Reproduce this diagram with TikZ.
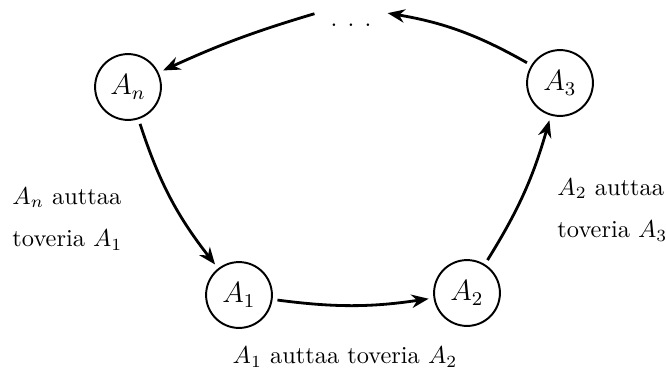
\documentclass[tikz,border=0pt]{standalone}
\usetikzlibrary{arrows.meta}
\begin{document}
\begin{tikzpicture}[x=0.41pt,y=-0.41pt,
  agent/.style={circle,draw,thick,minimum size=27pt,inner sep=0pt,font=\large},
  conn/.style={-{Stealth[length=7pt,width=5.5pt]},line width=1.15pt,shorten <=2pt,shorten >=2pt},
  lbl/.style={align=left,inner sep=0pt}]
\useasboundingbox (0,0) rectangle (666,373);
\node[agent] (An) at (128,87) {$A_n$};
\node[agent] (A1) at (239,295) {$A_1$};
\node[agent] (A2) at (467,293) {$A_2$};
\node[agent] (A3) at (560,83) {$A_3$};
\node[inner xsep=4.5pt,minimum height=10pt] (dots) at (351,25) {.\hspace{4.2pt}.\hspace{4.2pt}.};
\draw[conn] (An) to[bend right=10] (A1);
\draw[conn] (A1) to[bend right=8] (A2);
\draw[conn] (A2) to[bend right=8] (A3);
\draw[conn] (A3) to[bend right=10] (dots.north east);
\draw[conn] (dots.north west) to[bend right=4] (An);
\node[lbl,anchor=west] (l1) at (12,219) {$A_n$ auttaa\\[5.6pt] toveria $A_1$};
\node[lbl,anchor=west] (l2) at (557,210) {$A_2$ auttaa\\[5.6pt] toveria $A_3$};
\node[inner sep=0pt] (l3) at (345,357) {$A_1$ auttaa toveria $A_2$};
\end{tikzpicture}
\end{document}
